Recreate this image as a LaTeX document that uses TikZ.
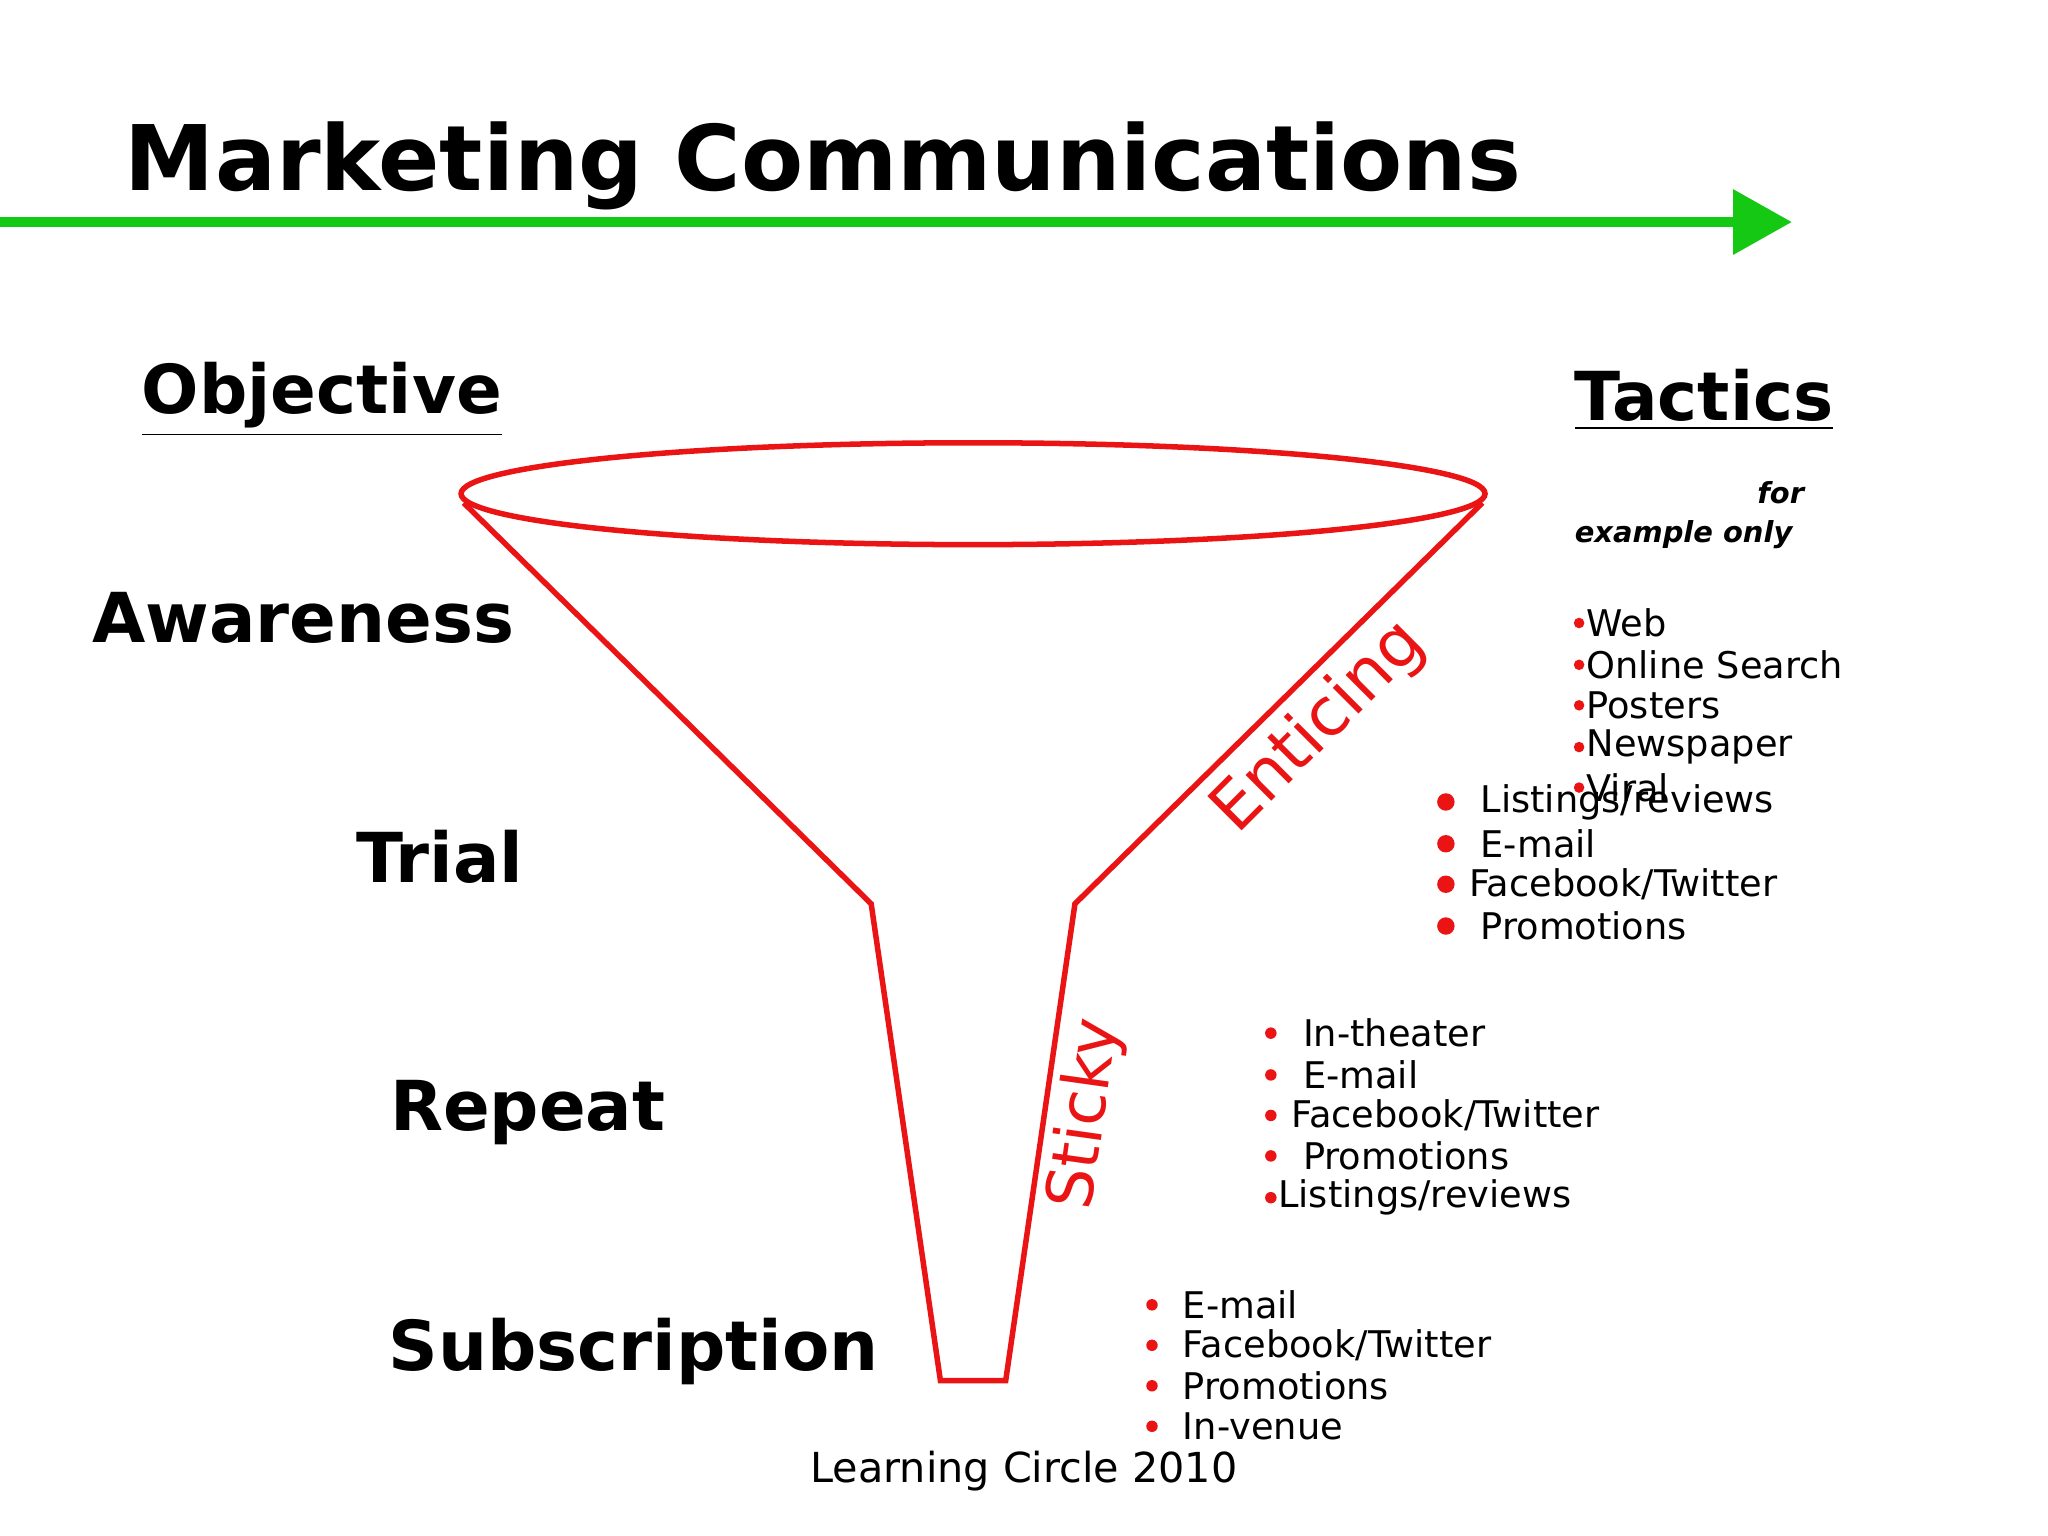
\documentclass[tikz,border=0pt]{standalone}
\usepackage{fontspec}
\setmainfont{DejaVu Sans}
\usetikzlibrary{arrows.meta}
\definecolor{fgreen}{RGB}{20,200,20}
\definecolor{fred}{RGB}{235,20,20}
\begin{document}
\begin{tikzpicture}[x=0.01cm,y=-0.01cm,
  big/.style={font=\fontsize{15}{17}\selectfont\bfseries,anchor=west,inner sep=0},
  head/.style={font=\fontsize{14.7}{16}\selectfont\bfseries,anchor=west,inner sep=0},
  item/.style={font=\fontsize{8}{10}\selectfont,anchor=west,inner sep=0},
  dot/.style={circle,fill=fred,inner sep=0,minimum size=#1},
  funnel/.style={draw=fred,line width=1.2pt}]
\useasboundingbox (0,0) rectangle (1568,1176);
\node[font=\fontsize{19.7}{22}\selectfont\bfseries,anchor=west,inner sep=0] (title) at (95,127) {Marketing Communications};
\coordinate (gs) at (0,170); \coordinate (ge) at (1372,170);
\draw[fgreen,line width=2.3pt,-{Triangle[length=0.45cm,width=0.48cm]}] (gs) -- (ge);
\node[head] (obj) at (108,306) {\underline{Objective}};
\node[head] (tac) at (1205,306) {\underline{Tactics}};
% funnel
\draw[funnel] (745,378) ellipse [x radius=392, y radius=39];
\draw[funnel] (355,385) -- (667,692) -- (720,1057) -- (770,1057) -- (823,692) -- (1135,385);
\node[font=\fontsize{14.5}{16}\selectfont,text=fred,rotate=45,inner sep=0] (ent) at (1010,557) {Enticing};
\node[font=\fontsize{14}{16}\selectfont,text=fred,rotate=82,inner sep=0] (sti) at (832,853) {Sticky};
% objectives
\node[big] (aw) at (70,473) {Awareness};
\node[big] (tr) at (272,656) {Trial};
\node[big] (re) at (298,852) {Repeat};
\node[big] (su) at (297,1035) {Subscription};
% example only
\node[font=\fontsize{6.3}{8}\selectfont\bfseries\itshape,anchor=east,inner sep=0] (for) at (1382,377) {for};
\node[font=\fontsize{6.3}{8}\selectfont\bfseries\itshape,anchor=west,inner sep=0] (ex) at (1205,409) {example only};
% list 1
\foreach \t/\y [count=\i] in {Web/477,Online Search/509,Posters/540,Newspaper/572,Viral/603}{
  \node[dot=2.3pt] (a\i) at (1209,\y) {};
  \node[item] (at\i) at (1214,\y) {\t};}
% list 2
\foreach \t/\y/\x [count=\i] in {{Listings/reviews}/614/1133,E-mail/646/1133,{Facebook/Twitter}/677/1124,Promotions/709/1133}{
  \node[dot=3.8pt] (b\i) at (1107,\y) {};
  \node[item] (bt\i) at (\x,\y) {\t};}
% list 3
\foreach \t/\y/\x [count=\i] in {In-theater/791/997,E-mail/823/997,{Facebook/Twitter}/854/988,Promotions/885/997,{Listings/reviews}/917/978}{
  \node[dot=2.5pt] (c\i) at (973,\y) {};
  \node[item] (ct\i) at (\x,\y) {\t};}
% list 4
\foreach \t/\y [count=\i] in {E-mail/999,{Facebook/Twitter}/1030,Promotions/1061,In-venue/1092}{
  \node[dot=2.5pt] (d\i) at (882,\y) {};
  \node[item] (dt\i) at (905,\y) {\t};}
\node[font=\fontsize{9}{11}\selectfont,inner sep=0] (lc) at (784,1126) {Learning Circle 2010};
\end{tikzpicture}
\end{document}
